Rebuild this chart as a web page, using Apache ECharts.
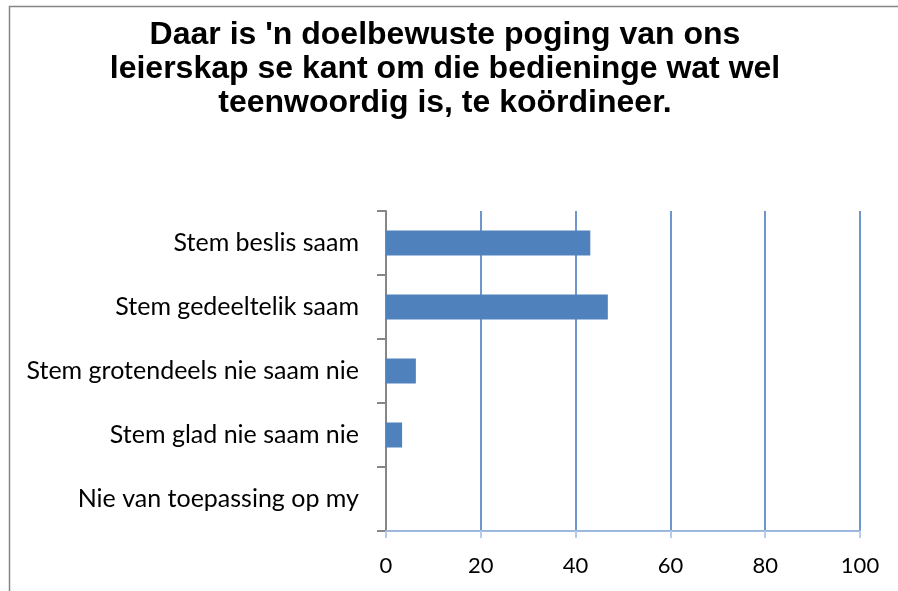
<!DOCTYPE html>
<html>
<head>
<meta charset="utf-8">
<script src="https://cdn.jsdelivr.net/npm/echarts@6/dist/echarts.min.js"></script>
<style>
    html, body {margin:0;padding:0;background:#fff;}
    #chart {width:898px;height:591px;}
</style>
</head>
<body>
<div id="chart"></div>
<script>
    // data
    var titleLines = [
        "Daar is 'n doelbewuste poging van ons",
        "leierskap se kant om die bedieninge wat wel",
        "teenwoordig is, te koördineer."
    ];
    var categories = [
        'Stem beslis saam',
        'Stem gedeeltelik saam',
        'Stem grotendeels nie saam nie',
        'Stem glad nie saam nie',
        'Nie van toepassing op my'
    ];
    var values = [43.1, 46.8, 6.3, 3.4, 0];
    var xMin = 0, xMax = 100, xStep = 20;

    var chart = echarts.init(document.getElementById('chart'));
    var option = {
        animation: false,
        backgroundColor: '#fff',
        title: {
            text: titleLines.join('\n'),
            left: 440,
            top: 13,
            textAlign: 'center',
            textStyle: {
                fontFamily: '"Liberation Sans", Arial, sans-serif',
                fontWeight: 'bold',
                fontSize: 32,
                lineHeight: 34,
                color: '#000'
            }
        },
        graphic: [{
            type: 'rect',
            shape: {x: 9.5, y: 6.5, width: 1000, height: 1000},
            style: {fill: 'none', stroke: '#868686', lineWidth: 1.5},
            silent: true
        }],
        grid: {left: 386, right: 38, top: 211, bottom: 60, containLabel: false},
        xAxis: {
            type: 'value',
            min: xMin,
            max: xMax,
            interval: xStep,
            axisLine: {show: true, lineStyle: {color: '#9cb8dc', width: 2}},
            axisTick: {show: true, length: 7, lineStyle: {color: '#b6cbe6', width: 2}},
            axisLabel: {
                margin: 24,
                fontFamily: 'Lato, "Open Sans", sans-serif',
                fontSize: 22,
                color: '#000'
            },
            splitLine: {show: true, lineStyle: {color: '#6d96ca', width: 2}}
        },
        yAxis: {
            type: 'category',
            data: categories,
            inverse: true,
            axisLine: {show: true, lineStyle: {color: '#868686', width: 2}},
            axisTick: {show: true, length: 9, lineStyle: {color: '#868686', width: 2}},
            axisLabel: {
                margin: 27,
                fontFamily: 'Lato, "Open Sans", sans-serif',
                fontSize: 25,
                color: '#000'
            }
        },
        series: [{
            type: 'bar',
            data: values,
            barWidth: 25,
            itemStyle: {color: '#4f81bd'},
            z: 3
        }]
    };
    chart.setOption(option);
    window.onresize = function () {
        chart.resize();
    };
</script>
</body>
</html>
